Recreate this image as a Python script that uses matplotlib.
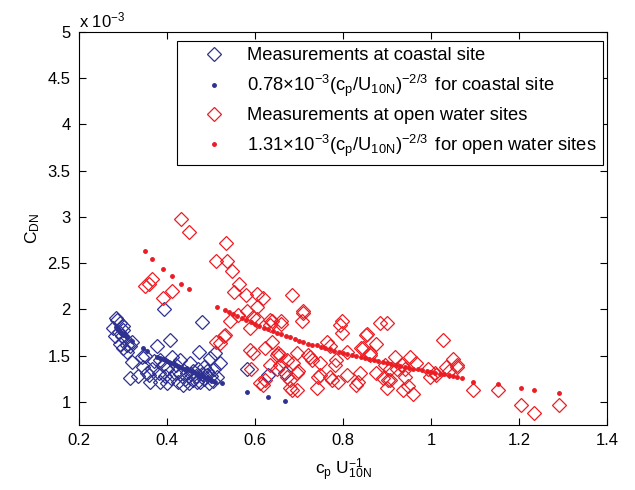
import matplotlib
matplotlib.use('Agg')
import matplotlib.pyplot as plt

plt.rcParams['font.family'] = ['Liberation Sans', 'DejaVu Sans']
plt.rcParams['mathtext.fontset'] = 'custom'
plt.rcParams['mathtext.rm'] = 'Liberation Sans'
plt.rcParams['mathtext.it'] = 'Liberation Sans'
plt.rcParams['mathtext.default'] = 'regular'

# C_DN values are in units of 1e-3
coast_x = [0.284, 0.293, 0.278, 0.290, 0.297, 0.282, 0.300, 0.293, 0.301, 0.308,
           0.320, 0.320, 0.316, 0.343, 0.346, 0.354, 0.362, 0.377, 0.384, 0.381,
           0.384, 0.400, 0.407, 0.411, 0.418, 0.426, 0.430, 0.437, 0.445, 0.453,
           0.460, 0.468, 0.472, 0.483, 0.490, 0.498, 0.506, 0.510, 0.513, 0.520,
           0.393, 0.480, 0.581, 0.630, 0.668,
           0.410, 0.420, 0.430, 0.440, 0.450, 0.455, 0.460, 0.465, 0.470, 0.475,
           0.480, 0.485, 0.490, 0.495, 0.500, 0.505, 0.365, 0.370, 0.390, 0.395,
           0.400, 0.350, 0.335, 0.360, 0.310, 0.305, 0.287, 0.300, 0.315]
coast_y = [1.905, 1.85, 1.80, 1.76, 1.71, 1.71, 1.78, 1.63, 1.58, 1.54,
           1.65, 1.43, 1.26, 1.49, 1.38, 1.31, 1.22, 1.60, 1.45, 1.31,
           1.22, 1.35, 1.67, 1.49, 1.31, 1.22, 1.45, 1.18, 1.31, 1.42,
           1.33, 1.22, 1.54, 1.38, 1.29, 1.47, 1.36, 1.53, 1.27, 1.42,
           2.00, 1.86, 1.35, 1.29, 1.31,
           1.26, 1.40, 1.30, 1.25, 1.20, 1.30, 1.24, 1.28, 1.35, 1.22,
           1.30, 1.25, 1.33, 1.20, 1.28, 1.23, 1.35, 1.44, 1.40, 1.28,
           1.20, 1.50, 1.28, 1.29, 1.62, 1.68, 1.88, 1.82, 1.60]

coast_fit_x = [0.285, 0.288, 0.290, 0.293, 0.296, 0.298, 0.300, 0.303, 0.306, 0.310,
               0.320, 0.346, 0.355, 0.377, 0.385, 0.390, 0.395, 0.400, 0.405, 0.410,
               0.415, 0.420, 0.425, 0.430, 0.435, 0.440, 0.445, 0.450, 0.455, 0.460,
               0.465, 0.470, 0.475, 0.480, 0.485, 0.490, 0.495, 0.500, 0.505, 0.510,
               0.526, 0.581, 0.630, 0.668]
coast_fit_y = [1.81, 1.79, 1.78, 1.76, 1.75, 1.74, 1.73, 1.72, 1.71, 1.70,
               1.66, 1.58, 1.55, 1.49, 1.47, 1.46, 1.45, 1.44, 1.43, 1.42,
               1.41, 1.40, 1.39, 1.38, 1.37, 1.36, 1.35, 1.34, 1.33, 1.32,
               1.31, 1.30, 1.29, 1.28, 1.27, 1.26, 1.25, 1.24, 1.23, 1.22,
               1.20, 1.11, 1.05, 1.01]

open_x = [0.431, 0.451, 0.350, 0.360, 0.367, 0.411, 0.392, 0.534, 0.511, 0.537,
          0.547, 0.564, 0.553, 0.579, 0.605, 0.619, 0.604, 0.683, 0.710, 0.706,
          0.562, 0.581, 0.596, 0.634, 0.660, 0.638, 0.589, 0.604, 0.634, 0.530,
          0.511, 0.520, 0.532, 0.543, 0.588, 0.596, 0.623, 0.638, 0.657, 0.634,
          0.649, 0.672, 0.695, 0.687, 0.695, 0.679, 0.695, 0.592, 0.619, 0.611,
          0.623, 0.653, 0.672, 0.725, 0.748, 0.744, 0.763, 0.793, 0.785, 0.774,
          0.789, 0.797, 0.797, 0.884, 0.900, 0.854, 0.875, 0.770, 0.808, 0.842,
          0.861, 0.721, 0.729, 0.698, 0.748, 0.770, 0.782, 0.839, 0.835, 0.876,
          0.895, 0.918, 0.952, 0.967, 0.922, 0.941, 0.933, 0.903, 0.899, 0.937,
          0.960, 0.948, 0.740, 0.683, 0.679, 0.994, 1.009, 1.028, 1.034, 1.049,
          1.058, 1.012, 0.998, 1.040, 1.060, 1.096, 1.153, 1.205, 1.235, 1.292,
          0.830, 0.846, 0.861, 0.891, 0.906, 0.940, 0.853, 0.906, 0.710, 0.660,
          0.649, 0.657, 0.810]
open_y = [2.975, 2.835, 2.25, 2.28, 2.33, 2.20, 2.12, 2.715, 2.52, 2.52,
          2.41, 2.28, 2.19, 2.16, 2.17, 2.12, 2.03, 2.16, 1.98, 1.87,
          1.94, 1.98, 1.92, 1.89, 1.87, 1.87, 1.80, 1.90, 1.83, 1.71,
          1.65, 1.64, 1.72, 1.87, 1.56, 1.53, 1.58, 1.65, 1.51, 1.40,
          1.35, 1.45, 1.53, 1.42, 1.31, 1.15, 1.13, 1.35, 1.18, 1.20,
          1.24, 1.53, 1.27, 1.49, 1.42, 1.27, 1.65, 1.83, 1.45, 1.24,
          1.22, 1.87, 1.74, 1.85, 1.85, 1.73, 1.63, 1.60, 1.54, 1.58,
          1.53, 1.51, 1.45, 1.33, 1.29, 1.27, 1.40, 1.31, 1.22, 1.31,
          1.40, 1.49, 1.49, 1.42, 1.35, 1.36, 1.40, 1.24, 1.15, 1.13,
          1.09, 1.17, 1.15, 1.13, 1.24, 1.35, 1.31, 1.67, 1.38, 1.46,
          1.38, 1.29, 1.27, 1.33, 1.40, 1.13, 1.13, 0.968, 0.884, 0.968,
          1.18, 1.58, 1.51, 1.26, 1.24, 1.27, 1.72, 1.35, 1.96, 1.84,
          1.51, 1.40, 1.29]

open_fit_x = [0.350, 0.367, 0.390, 0.411, 0.431, 0.451, 0.513,
              0.531, 0.54, 0.55, 0.56, 0.57, 0.58, 0.59, 0.60, 0.61, 0.62,
              0.63, 0.64, 0.65, 0.66, 0.67, 0.68, 0.69, 0.70, 0.71, 0.72,
              0.73, 0.74, 0.75, 0.76, 0.77, 0.78, 0.79, 0.80, 0.81, 0.82,
              0.83, 0.84, 0.85, 0.86, 0.87, 0.88, 0.89, 0.90, 0.91, 0.92,
              0.93, 0.94, 0.95, 0.96, 0.97, 0.98, 0.99, 1.00, 1.01, 1.02,
              1.03, 1.04, 1.05, 1.06, 1.07, 1.096, 1.153, 1.205, 1.235, 1.292]
open_fit_y = [2.63, 2.54, 2.44, 2.36, 2.28, 2.22, 2.03,
              1.99, 1.97, 1.95, 1.93, 1.91, 1.88, 1.86, 1.84, 1.82, 1.80,
              1.79, 1.77, 1.75, 1.73, 1.71, 1.70, 1.68, 1.66, 1.65, 1.63,
              1.62, 1.61, 1.59, 1.58, 1.57, 1.55, 1.54, 1.53, 1.52, 1.51,
              1.50, 1.48, 1.47, 1.46, 1.45, 1.44, 1.43, 1.42, 1.41, 1.40,
              1.39, 1.38, 1.37, 1.36, 1.35, 1.34, 1.33, 1.32, 1.31, 1.30,
              1.30, 1.29, 1.28, 1.27, 1.26, 1.22, 1.195, 1.148, 1.13, 1.094]

blue = '#2e3192'
red = '#ec1c24'

fig = plt.figure(figsize=(6.35, 4.9), dpi=100)
ax = fig.add_axes([0.1244, 0.1327, 0.8315, 0.802])

ax.plot(coast_x, coast_y, 'D', mfc='none', mec=blue, ms=7.5, mew=0.9,
        label='Measurements at coastal site')
ax.plot(coast_fit_x, coast_fit_y, '.', color=blue, ms=5,
        label=r'0.78$\times$10$^{-3}$(c$_p$/U$_{10N}$)$^{-2/3}\,$ for coastal site')
ax.plot(open_x, open_y, 'D', mfc='none', mec=red, ms=7.5, mew=0.9,
        label='Measurements at open water sites')
ax.plot(open_fit_x, open_fit_y, '.', color=red, ms=5,
        label=r'1.31$\times$10$^{-3}$(c$_p$/U$_{10N}$)$^{-2/3}\,$ for open water sites')

ax.set_xlim(0.2, 1.4)
ax.set_ylim(0.75, 5)
ax.set_xticks([0.2, 0.4, 0.6, 0.8, 1.0, 1.2, 1.4])
ax.set_xticklabels(['0.2', '0.4', '0.6', '0.8', '1', '1.2', '1.4'])
ax.set_yticks([1, 1.5, 2, 2.5, 3, 3.5, 4, 4.5, 5])
ax.set_yticklabels(['1', '1.5', '2', '2.5', '3', '3.5', '4', '4.5', '5'])
ax.tick_params(direction='in', top=True, right=True, length=5, width=0.8,
               labelsize=12, pad=6)
for s in ax.spines.values():
    s.set_linewidth(0.8)

ax.set_xlabel(r'c$_p$ U$^{-1}_{10N}$', fontsize=12.5, labelpad=6)
ax.set_ylabel(r'C$_{DN}$', fontsize=12.5, labelpad=4)
ax.text(0.0, 1.005, r'x 10$^{-3}$', transform=ax.transAxes, fontsize=12,
        ha='left', va='bottom')

leg = ax.legend(loc='upper right', bbox_to_anchor=(0.993, 0.977), fontsize=13.2,
                numpoints=1, handlelength=3.4, handletextpad=0.1,
                borderpad=0.35, labelspacing=0.45, borderaxespad=0.0,
                fancybox=False, framealpha=1, edgecolor='black')
leg.get_frame().set_linewidth(0.8)

fig.savefig('out.png', dpi=100)
